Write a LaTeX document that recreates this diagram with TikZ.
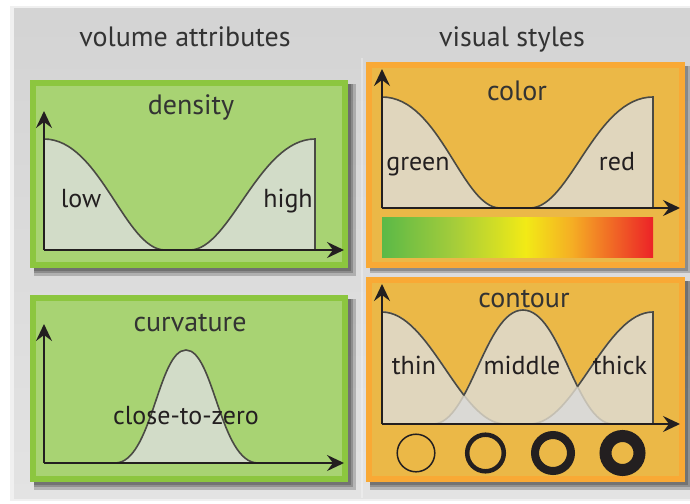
\documentclass[tikz,border=0pt]{standalone}
\usepackage{fontspec}
\setmainfont{PT Sans}
\usetikzlibrary{arrows.meta, calc}

\definecolor{greenrim}{HTML}{8CC63F}
\definecolor{greenfill}{HTML}{A8D373}
\definecolor{greenarea}{HTML}{D2DCC8}
\definecolor{orangerim}{HTML}{F9A935}
\definecolor{orangefill}{HTML}{EBB847}
\definecolor{orangearea}{HTML}{E0D6BD}
\definecolor{overlaparea}{HTML}{DAD9D5}
\definecolor{textdark}{HTML}{333333}
\definecolor{curvegray}{HTML}{4A4A44}
\definecolor{curvefaint}{HTML}{C4BFB2}
\definecolor{axisblack}{HTML}{231F20}
\definecolor{rampgreen}{HTML}{5BB947}
\definecolor{rampyg}{HTML}{A3CC3B}
\definecolor{rampyellow}{HTML}{F2EA16}
\definecolor{ramporange}{HTML}{F5AE24}
\definecolor{rampred}{HTML}{EC2227}

\pgfdeclarehorizontalshading{colorramp}{100bp}{
  color(0bp)=(rampgreen); color(25bp)=(rampgreen);
  color(38bp)=(rampyg); color(51.5bp)=(rampyellow);
  color(60bp)=(ramporange); color(75bp)=(rampred);
  color(100bp)=(rampred)}

\tikzset{
  head text/.style={font=\fontsize{28}{28}\selectfont, text=textdark,
    anchor=base, inner sep=0pt},
  title text/.style={font=\fontsize{28}{28}\selectfont, text=textdark,
    anchor=base, inner sep=0pt},
  label text/.style={font=\fontsize{26}{26}\selectfont, text=axisblack,
    anchor=base, inner sep=0pt},
  box shadow/.style={fill=black, opacity=0.2},
  axis arrow/.style={-{Stealth[length=17pt,width=16pt,inset=6pt]}, line width=2.3pt,
    draw=axisblack},
  curve line/.style={draw=curvegray, line width=1.6pt},
  faint line/.style={draw=curvefaint, line width=1.6pt},
  ring/.style={draw=axisblack}
}

\begin{document}
\begin{tikzpicture}[x=1pt,y=-1pt]

% ====== canvas and grey panel ======
\fill[white] (0,0) rectangle (690,503);
\useasboundingbox (0,0) rectangle (690,503);
\fill[black, opacity=0.06] (10,6) rectangle (690,501);
\fill[top color=black!17, bottom color=black!11] (14,9) rectangle (690,498);
\draw[white, opacity=0.3, line width=1.2pt] (362,58) -- (362,498);

\node[head text] (volhead) at (185,46) {volume attributes};
\node[head text] (vishead) at (512,46) {visual styles};

% ====== shadows ======
\fill[box shadow] (34,84) rectangle (351,271);
\fill[box shadow] (34,84) rectangle (353,273);
\fill[box shadow] (34,84) rectangle (356,276);
\fill[box shadow] (34,299) rectangle (351,485);
\fill[box shadow] (34,299) rectangle (353,487);
\fill[box shadow] (34,299) rectangle (356,490);
\fill[box shadow] (370,66) rectangle (688,271);
\fill[box shadow] (370,66) rectangle (690,273);
\fill[box shadow] (370,281) rectangle (688,485);
\fill[box shadow] (370,281) rectangle (690,487);
\fill[box shadow] (370,281) rectangle (690,490);

% ====== density ======
\fill[greenrim] (30,80) rectangle (348,268);
\fill[greenfill] (36,86) rectangle (342,262);
\node[title text] (density) at (191,114) {density};
\fill[greenarea] (44,250) -- (44,139) .. controls (100,139) and (125,250) .. (165,250)
  -- (190,250) .. controls (230,250) and (259,139) .. (315,139) -- (315,250) -- cycle;
\draw[curve line] (44,139) .. controls (100,139) and (125,250) .. (165,250)
  -- (190,250) .. controls (230,250) and (259,139) .. (315,139) -- (315,250);
\coordinate (dO) at (44,250);
\coordinate (dY) at (44,111);
\coordinate (dX) at (344,250);
\draw[axis arrow] (dO) -- (dY);
\draw[axis arrow] (dO) -- (dX);
\node[label text] (low) at (81,207) {low};
\node[label text] (high) at (288,207) {high};

% ====== curvature ======
\fill[greenrim] (30,295) rectangle (348,482);
\fill[greenfill] (36,301) rectangle (342,476);
\node[title text] (curvature) at (190,331) {curvature};
\fill[greenarea] (115,463) .. controls (152,463) and (158,350) .. (186,350)
  .. controls (214,350) and (220,463) .. (258,463) -- cycle;
\draw[curve line] (115,463) .. controls (152,463) and (158,350) .. (186,350)
  .. controls (214,350) and (220,463) .. (258,463);
\coordinate (cO) at (44,463);
\coordinate (cY) at (44,324);
\coordinate (cX) at (344,463);
\draw[axis arrow] (cO) -- (cY);
\draw[axis arrow] (cO) -- (cX);
\node[label text] (zero) at (186,424) {close-to-zero};

% ====== color ======
\fill[orangerim] (366,62) rectangle (685,268);
\fill[orangefill] (372,68) rectangle (679,262);
\node[title text] (color) at (517,100) {color};
\fill[orangearea] (382,208) -- (382,97) .. controls (440,97) and (462,208) .. (500,208)
  -- (530,208) .. controls (570,208) and (595,97) .. (653,97) -- (653,208) -- cycle;
\draw[curve line] (382,97) .. controls (440,97) and (462,208) .. (500,208)
  -- (530,208) .. controls (570,208) and (595,97) .. (653,97) -- (653,208);
\coordinate (kO) at (382,208);
\coordinate (kY) at (382,69);
\coordinate (kX) at (680,208);
\draw[axis arrow] (kO) -- (kY);
\draw[axis arrow] (kO) -- (kX);
\node[label text] (green) at (418,170) {green};
\node[label text] (red) at (617,170) {red};
\shade[shading=colorramp] (382,217) rectangle (653,257);

% ====== contour ======
\fill[orangerim] (366,277) rectangle (685,482);
\fill[orangefill] (372,283) rectangle (679,476);
\node[title text] (contour) at (524,307) {contour};
% areas
\fill[orangearea] (382,424) -- (382,312) .. controls (430,312) and (460,424) .. (505,424) -- cycle;
\fill[orangearea] (433,424) .. controls (470,424) and (485,310) .. (523,310)
  .. controls (561,310) and (576,424) .. (613,424) -- cycle;
\fill[orangearea] (530,424) .. controls (575,424) and (605,312) .. (653,312) -- (653,424) -- cycle;
\begin{scope}
  \clip (382,424) -- (382,312) .. controls (430,312) and (460,424) .. (505,424) -- cycle;
  \fill[overlaparea] (433,424) .. controls (470,424) and (485,310) .. (523,310)
    .. controls (561,310) and (576,424) .. (613,424) -- cycle;
\end{scope}
\begin{scope}
  \clip (530,424) .. controls (575,424) and (605,312) .. (653,312) -- (653,424) -- cycle;
  \fill[overlaparea] (433,424) .. controls (470,424) and (485,310) .. (523,310)
    .. controls (561,310) and (576,424) .. (613,424) -- cycle;
\end{scope}
% curves, faint where they overlap
\draw[faint line] (382,312) .. controls (430,312) and (460,424) .. (505,424);
\draw[faint line] (433,424) .. controls (470,424) and (485,310) .. (523,310)
  .. controls (561,310) and (576,424) .. (613,424);
\draw[faint line] (530,424) .. controls (575,424) and (605,312) .. (653,312);
\begin{scope}[even odd rule]
  \clip (370,280) rectangle (680,430)
    (433,424) .. controls (470,424) and (485,310) .. (523,310)
    .. controls (561,310) and (576,424) .. (613,424) -- cycle;
  \draw[curve line] (382,312) .. controls (430,312) and (460,424) .. (505,424);
  \draw[curve line] (530,424) .. controls (575,424) and (605,312) .. (653,312) -- (653,424);
\end{scope}
\begin{scope}[even odd rule]
  \clip (370,280) rectangle (680,430)
    (382,424) -- (382,312) .. controls (430,312) and (460,424) .. (505,424) -- cycle
    (530,424) .. controls (575,424) and (605,312) .. (653,312) -- (653,424) -- cycle;
  \draw[curve line] (433,424) .. controls (470,424) and (485,310) .. (523,310)
    .. controls (561,310) and (576,424) .. (613,424);
\end{scope}
\coordinate (tO) at (382,424);
\coordinate (tY) at (382,284);
\coordinate (tX) at (680,424);
\draw[axis arrow] (tO) -- (tY);
\draw[axis arrow] (tO) -- (tX);
\node[label text] (thin) at (414,374) {thin};
\node[label text] (middle) at (522,374) {middle};
\node[label text] (thick) at (620,374) {thick};
% rings
\draw[ring, line width=1.5pt] (416,453) circle[radius=18.8];
\draw[ring, line width=4.5pt] (485.5,453) circle[radius=18.3];
\draw[ring, line width=8pt] (553,453) circle[radius=18];
\draw[ring, line width=12pt] (622.5,453) circle[radius=17];

\end{tikzpicture}
\end{document}
